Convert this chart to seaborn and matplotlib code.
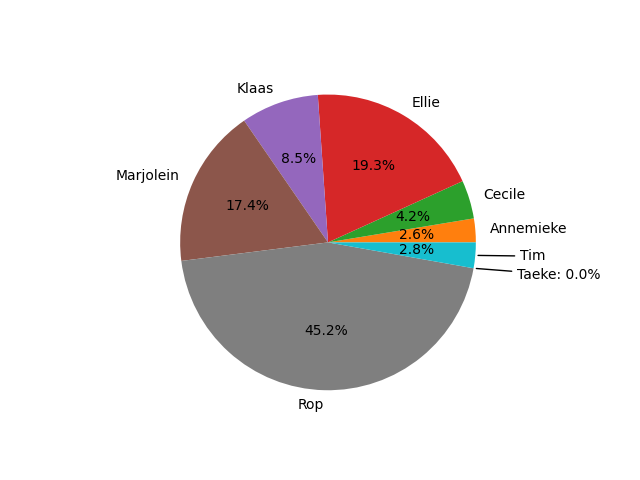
import numpy as np
import matplotlib
matplotlib.use("Agg")
import matplotlib.pyplot as plt
import seaborn as sns

# data (share per person, percent)
names = ["Annemieke", "Cecile", "Ellie", "Klaas", "Marjolein", "Rop", "Taeke", "Tim"]
shares = [2.6, 4.2, 19.3, 8.5, 17.4, 45.2, 0.0, 2.8]

# small slices get an annotation instead of a regular label
annotated = ["Taeke", "Tim"]

tab10 = sns.color_palette("tab10")
colors = [tab10[1], tab10[2], tab10[3], tab10[4], tab10[5], tab10[7], tab10[8], tab10[9]]


def fmt_pct(p):
    return "" if p < 0.05 else f"{p:.1f}%"


fig, ax = plt.subplots(figsize=(6.4, 4.8), dpi=100)

pie_labels = ["" if n in annotated else n for n in names]
wedges, texts, autotexts = ax.pie(
    shares,
    labels=pie_labels,
    colors=colors,
    autopct=fmt_pct,
)

total = sum(shares)
for name, w, val in zip(names, wedges, shares):
    if name not in annotated:
        continue
    ang = np.deg2rad((w.theta1 + w.theta2) / 2)
    x, y = np.cos(ang), np.sin(ang)
    if name == "Taeke":
        txt = f"{name}: {val / total * 100:.1f}%"
        tx, ty = 1.28, y - 0.045
    else:
        txt = name
        tx, ty = 1.3, y - 0.005
    ax.annotate(
        txt,
        xy=(x, y),
        xytext=(tx, ty),
        ha="left",
        va="center",
        arrowprops=dict(arrowstyle="-", color="black"),
    )

plt.savefig("out.png", dpi=100)
